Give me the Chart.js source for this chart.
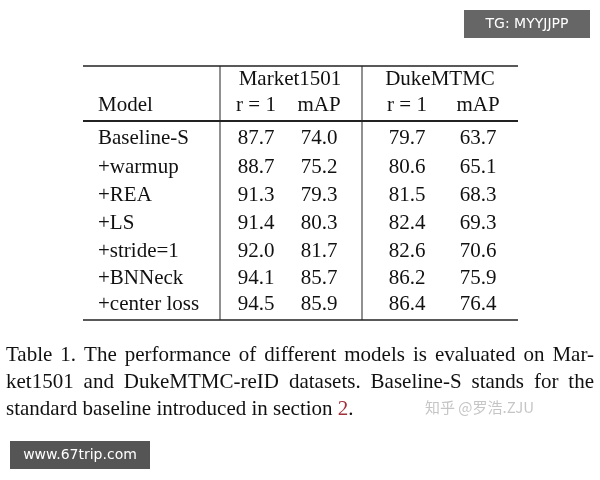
<!DOCTYPE html>
<html>
<head>
<meta charset="utf-8">
<script src="https://cdn.jsdelivr.net/npm/chart.js@4"></script>
<style>
  html, body { margin: 0; padding: 0; background: #fff; }
  #wrap { width: 600px; height: 480px; }
</style>
</head>
<body>
<div id="wrap"><canvas id="c"></canvas></div>
<script>
// table data
const models = ['Baseline-S', '+warmup', '+REA', '+LS', '+stride=1', '+BNNeck', '+center loss'];
const marketR1 = ['87.7', '88.7', '91.3', '91.4', '92.0', '94.1', '94.5'];
const marketMAP = ['74.0', '75.2', '79.3', '80.3', '81.7', '85.7', '85.9'];
const dukeR1 = ['79.7', '80.6', '81.5', '82.4', '82.6', '86.2', '86.4'];
const dukeMAP = ['63.7', '65.1', '68.3', '69.3', '70.6', '75.9', '76.4'];
const groups = ['Market1501', 'DukeMTMC'];
const subHeads = ['r = 1', 'mAP', 'r = 1', 'mAP'];
const caption = [
  'Table 1. The performance of different models is evaluated on Mar-',
  'ket1501 and DukeMTMC-reID datasets. Baseline-S stands for the',
  'standard baseline introduced in section '
];

// layout in scale units (page pixels)
const colX = [256, 319, 407, 478];
const rowY = [138, 167, 195, 223, 251, 278, 304];

const cells = [];
[marketR1, marketMAP, dukeR1, dukeMAP].forEach((col, ci) => {
  col.forEach((v, ri) => cells.push({ x: colX[ci], y: rowY[ri], t: v }));
});
models.forEach((m, ri) => cells.push({ x: 98, y: rowY[ri], t: m, left: true }));

function justify(ctx, text, x, y, width) {
  const words = text.split(' ');
  const used = words.reduce((s, w) => s + ctx.measureText(w).width, 0);
  const gap = (width - used) / (words.length - 1);
  let cx = x;
  words.forEach(w => { ctx.fillText(w, cx, y); cx += ctx.measureText(w).width + gap; });
}

const tablePlugin = {
  id: 'table',
  afterDatasetsDraw(chart) {
    const ctx = chart.ctx, sx = chart.scales.x, sy = chart.scales.y;
    const X = v => sx.getPixelForValue(v), Y = v => sy.getPixelForValue(v);
    ctx.save();
    ctx.fillStyle = '#111';
    ctx.strokeStyle = '#222';
    ctx.textBaseline = 'middle';
    ctx.font = '21px "Liberation Serif", serif';
    chart.data.datasets[0].data.forEach(p => {
      ctx.textAlign = p.left ? 'left' : 'center';
      ctx.fillText(p.t, X(p.x), Y(p.y));
    });
    ctx.textAlign = 'center';
    ctx.fillText(groups[0], X(290), Y(79));
    ctx.fillText(groups[1], X(440), Y(79));
    subHeads.forEach((h, i) => ctx.fillText(h, X(colX[i]), Y(105)));
    ctx.textAlign = 'left';
    ctx.fillText('Model', X(98), Y(105));
    const hl = (y, x0, x1, w) => { ctx.lineWidth = w; ctx.beginPath(); ctx.moveTo(X(x0), Y(y)); ctx.lineTo(X(x1), Y(y)); ctx.stroke(); };
    hl(66, 83, 518, 1.5);
    hl(121, 83, 518, 2);
    hl(320, 83, 518, 1.5);
    ctx.lineWidth = 1;
    [220, 362].forEach(x => { ctx.beginPath(); ctx.moveTo(X(x), Y(66)); ctx.lineTo(X(x), Y(320)); ctx.stroke(); });
    // caption
    ctx.font = '21px "Liberation Serif", serif';
    ctx.textAlign = 'left';
    justify(ctx, caption[0], X(6), Y(355), 588);
    justify(ctx, caption[1], X(6), Y(382), 588);
    ctx.fillText(caption[2], X(6), Y(409));
    const w = ctx.measureText(caption[2]).width;
    ctx.fillStyle = '#a0303a';
    ctx.fillText('2', X(6) + w, Y(409));
    ctx.fillStyle = '#111';
    ctx.fillText('.', X(6) + w + ctx.measureText('2').width, Y(409));
    ctx.fillStyle = 'rgba(150,150,150,0.55)';
    ctx.font = '15px "Noto Sans CJK SC", sans-serif';
    ctx.fillText('知乎 @罗浩.ZJU', X(425), Y(407));
    ctx.fillStyle = '#666';
    ctx.fillRect(X(464), Y(10), 126, 28);
    ctx.fillStyle = '#555';
    ctx.fillRect(X(10), Y(441), 140, 28);
    ctx.fillStyle = '#fff';
    ctx.font = '14px "DejaVu Sans", sans-serif';
    ctx.textAlign = 'center';
    ctx.fillText('TG: MYYJJPP', X(527), Y(24));
    ctx.fillText('www.67trip.com', X(80), Y(455));
    ctx.restore();
  }
};

new Chart(document.getElementById('c'), {
  type: 'scatter',
  data: { datasets: [{ data: cells, pointRadius: 0 }] },
  options: {
    responsive: true,
    maintainAspectRatio: false,
    animation: false,
    layout: { padding: 0 },
    plugins: { legend: { display: false }, tooltip: { enabled: false } },
    scales: {
      x: { type: 'linear', min: 0, max: 600, display: false },
      y: { type: 'linear', min: 0, max: 480, reverse: true, display: false }
    }
  },
  plugins: [tablePlugin]
});
</script>
</body>
</html>
